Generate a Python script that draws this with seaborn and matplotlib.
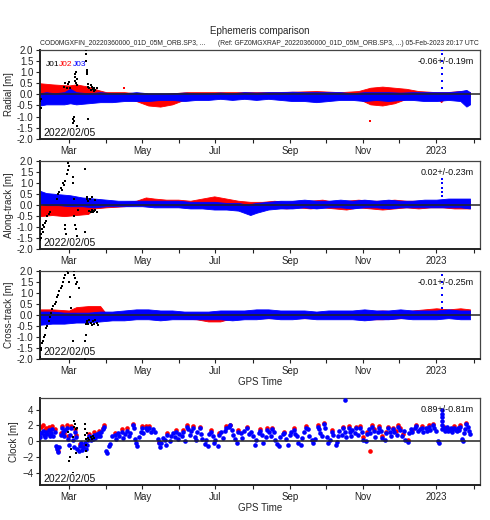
import numpy as np
import pandas as pd
import seaborn as sns
import matplotlib.pyplot as plt
import matplotlib.dates as mdates

start = pd.Timestamp("2022-02-05")

# ---- Radial: band envelopes (day offset, low, high) ----
rad_j02_days = [0, 10, 24, 30, 40, 48, 55, 70, 80, 90, 100, 110, 122, 135, 150, 170, 190, 210, 230, 250, 265, 275, 285, 295, 305, 315, 330, 334, 338, 350, 358]
rad_j02_low = [0.0, 0.05, 0.0, 0.05, 0.05, -0.1, -0.15, -0.15, -0.3, -0.5, -0.55, -0.45, -0.2, -0.15, -0.15, -0.1, -0.15, -0.1, -0.15, -0.15, -0.2, -0.45, -0.5, -0.4, -0.2, -0.15, -0.15, -0.35, -0.1, -0.1, -0.1]
rad_j02_high = [0.5, 0.45, 0.4, 0.45, 0.35, 0.2, 0.1, 0.1, 0.05, 0.0, 0.0, 0.05, 0.1, 0.1, 0.1, 0.1, 0.1, 0.12, 0.15, 0.1, 0.15, 0.3, 0.35, 0.3, 0.25, 0.15, 0.1, 0.1, 0.1, 0.15, 0.1]

rad_j03_days = [0, 5, 12, 20, 25, 30, 40, 50, 60, 70, 80, 90, 100, 110, 120, 130, 140, 150, 160, 170, 180, 190, 200, 210, 220, 230, 240, 250, 260, 270, 280, 290, 300, 310, 320, 330, 340, 350, 355, 358]
rad_j03_low = [-0.5, -0.45, -0.45, -0.45, -0.4, -0.45, -0.4, -0.35, -0.35, -0.3, -0.3, -0.3, -0.25, -0.25, -0.3, -0.25, -0.25, -0.2, -0.25, -0.2, -0.25, -0.2, -0.25, -0.3, -0.3, -0.35, -0.3, -0.25, -0.25, -0.3, -0.25, -0.3, -0.25, -0.25, -0.3, -0.3, -0.25, -0.3, -0.55, -0.45]
rad_j03_high = [0.05, 0.1, 0.05, 0.1, 0.25, 0.1, 0.05, 0.1, 0.05, 0.05, 0.1, 0.05, 0.05, 0.05, 0.08, 0.05, 0.05, 0.08, 0.05, 0.1, 0.08, 0.1, 0.1, 0.12, 0.1, 0.1, 0.1, 0.1, 0.05, 0.1, 0.1, 0.1, 0.08, 0.1, 0.1, 0.1, 0.1, 0.15, 0.2, 0.1]

rad_j01_days = [0, 0.5, 1, 20, 21, 22, 23, 24, 25, 27, 27.3, 27.6, 28, 28.3, 28.6, 29, 29.3, 29.6, 30, 30.3, 30.6, 31, 38, 38.2, 38.4, 38.6, 38.8, 39, 39.5, 40, 40, 41, 42, 43, 44, 45, 46, 47, 42.5, 44.5]
rad_j01_vals = [-0.3, -0.6, -0.2, 0.35, 0.5, 0.3, 0.45, 0.55, 0.3, -1.6, -1.3, -1.1, -1.0, -1.2, 0.8, 0.9, 0.6, 0.5, 1.0, -1.4, 0.7, 0.4, 2.0, 1.8, 1.5, 1.1, 1.0, 0.9, 0.45, -1.1, 0.35, 0.3, 0.2, 0.35, 0.25, 0.3, 0.2, 0.3, 0.4, 0.15]
rad_spike_vals = [0.3, 0.6, 0.9, 1.2, 1.5, 1.8, 2.0]
rad_out_days = [275, 70]
rad_out_vals = [-1.2, 0.3]

# ---- Along-track ----
alo_j02_days = [0, 10, 20, 30, 40, 45, 55, 70, 80, 88, 95, 105, 115, 125, 135, 145, 155, 165, 175, 185, 195, 205, 215, 225, 235, 245, 255, 265, 275, 285, 295, 305, 315, 325, 335, 345, 358]
alo_j02_low = [-0.5, -0.45, -0.5, -0.45, -0.4, -0.15, -0.1, -0.05, 0.0, 0.0, 0.0, -0.05, -0.05, -0.1, 0.0, -0.05, 0.0, -0.1, -0.15, -0.15, -0.1, -0.15, -0.1, -0.15, -0.1, -0.15, -0.2, -0.1, -0.15, -0.2, -0.15, -0.1, -0.15, -0.1, -0.1, -0.15, -0.15]
alo_j02_high = [0.0, 0.0, 0.0, 0.0, 0.0, 0.1, 0.1, 0.15, 0.2, 0.35, 0.3, 0.25, 0.25, 0.2, 0.3, 0.4, 0.3, 0.2, 0.15, 0.15, 0.2, 0.15, 0.2, 0.2, 0.25, 0.15, 0.2, 0.25, 0.2, 0.2, 0.25, 0.2, 0.2, 0.2, 0.2, 0.25, 0.2]

alo_j03_days = [0, 5, 15, 25, 35, 45, 55, 65, 75, 85, 95, 105, 115, 125, 135, 145, 155, 165, 170, 175, 180, 190, 200, 210, 220, 230, 240, 250, 260, 270, 280, 290, 300, 310, 320, 330, 340, 350, 358]
alo_j03_low = [0.05, 0.0, 0.0, -0.05, -0.05, -0.1, -0.05, -0.05, -0.05, -0.05, -0.1, -0.1, -0.1, -0.15, -0.15, -0.2, -0.2, -0.25, -0.35, -0.45, -0.35, -0.2, -0.15, -0.15, -0.1, -0.15, -0.1, -0.1, -0.15, -0.1, -0.1, -0.15, -0.1, -0.1, -0.1, -0.1, -0.1, -0.1, -0.15]
alo_j03_high = [0.65, 0.55, 0.5, 0.45, 0.35, 0.3, 0.25, 0.2, 0.2, 0.2, 0.2, 0.2, 0.2, 0.15, 0.15, 0.15, 0.1, 0.1, 0.05, 0.05, 0.1, 0.15, 0.2, 0.2, 0.25, 0.2, 0.2, 0.25, 0.2, 0.25, 0.2, 0.25, 0.2, 0.2, 0.25, 0.25, 0.3, 0.3, 0.3]

alo_j01_days = [0, 0.5, 1, 1.5, 2, 2.5, 3, 4, 5, 6, 7, 8, 14, 15, 16, 17, 18, 19, 20, 21, 22, 23, 23.5, 24, 20.5, 20.8, 21.2, 27, 27.5, 28, 28.5, 29, 30, 30.5, 31, 31.5, 37, 37.3, 37.6, 38, 38.3, 38.6, 39, 40, 41, 42, 43, 44, 45, 46, 47, 41.5, 43.5, 45.5]
alo_j01_vals = [-1.6, -1.3, -1.5, -1.1, -1.2, -0.9, -1.0, -0.8, -0.7, -0.5, -0.4, -0.3, 0.3, 0.5, 0.6, 0.8, 0.7, 1.0, 0.9, 1.1, 1.4, 1.6, 1.9, 1.8, -0.9, -1.1, -1.3, 1.3, 1.0, 0.3, -0.5, -0.9, -1.1, -1.4, -1.5, -0.2, 1.65, -1.2, -1.5, -1.8, -1.6, 0.35, 0.3, 0.2, -0.25, -0.3, -0.2, -0.3, -0.25, -0.2, -0.3, 0.3, 0.35, 0.25]
alo_spike_vals = [0.4, 0.6, 0.8, 1.0, 1.2]

# ---- Cross-track ----
crs_j02_days = [0, 10, 24, 30, 40, 50, 55, 70, 90, 110, 130, 140, 150, 160, 180, 200, 220, 240, 260, 270, 285, 300, 310, 320, 330, 340, 350, 358]
crs_j02_low = [-0.05, 0.0, -0.05, 0.1, 0.1, 0.15, -0.15, -0.15, -0.15, -0.15, -0.2, -0.3, -0.3, -0.15, -0.15, -0.15, -0.15, -0.15, -0.15, -0.2, -0.2, -0.15, -0.1, -0.05, 0.0, 0.0, 0.0, 0.0]
crs_j02_high = [0.25, 0.25, 0.2, 0.35, 0.4, 0.4, 0.05, 0.05, 0.05, 0.05, 0.05, 0.05, 0.05, 0.05, 0.05, 0.05, 0.05, 0.05, 0.05, 0.15, 0.2, 0.15, 0.2, 0.25, 0.3, 0.25, 0.3, 0.25]

crs_j03_days = [0, 10, 20, 30, 40, 50, 60, 70, 80, 90, 100, 110, 120, 130, 140, 150, 160, 170, 180, 190, 200, 210, 220, 230, 240, 250, 260, 270, 280, 290, 300, 310, 320, 330, 340, 350, 358]
crs_j03_low = [-0.45, -0.4, -0.4, -0.35, -0.35, -0.3, -0.25, -0.25, -0.2, -0.2, -0.25, -0.2, -0.2, -0.2, -0.2, -0.2, -0.25, -0.2, -0.2, -0.15, -0.2, -0.2, -0.15, -0.2, -0.2, -0.2, -0.2, -0.25, -0.2, -0.2, -0.15, -0.2, -0.2, -0.2, -0.15, -0.2, -0.2]
crs_j03_high = [0.15, 0.15, 0.1, 0.1, 0.1, 0.15, 0.15, 0.2, 0.25, 0.25, 0.2, 0.2, 0.15, 0.15, 0.15, 0.2, 0.2, 0.2, 0.25, 0.25, 0.2, 0.2, 0.2, 0.15, 0.2, 0.2, 0.2, 0.25, 0.2, 0.2, 0.25, 0.2, 0.2, 0.2, 0.25, 0.2, 0.2]

crs_j01_days = [0, 0.5, 1, 1.5, 2, 3, 4, 5, 6, 7, 8, 9, 10, 11, 12, 13, 14, 15, 16, 17, 18, 19, 20, 21, 22, 23, 24, 25, 26, 27, 27.5, 28, 28.5, 29, 30, 31, 32, 37, 37.3, 37.6, 38, 38.3, 38.6, 39, 40, 41, 42, 43, 44, 45, 46, 47, 48]
crs_j01_vals = [-1.9, -1.6, -1.5, -1.3, -1.2, -1.0, -0.9, -0.6, -0.5, -0.3, -0.1, 0.1, 0.25, 0.4, 0.5, 0.6, 0.8, 0.9, 1.1, 1.2, 1.3, 1.5, 1.7, 1.8, 2.0, 1.9, 1.5, 0.8, 0.3, -1.2, -1.5, 1.8, 2.0, 1.7, 1.4, 1.5, 1.2, -2.0, -1.6, -1.2, -0.9, -0.4, -0.35, -0.3, -0.4, -0.25, -0.35, -0.45, -0.3, -0.4, -0.25, -0.35, -0.45]
crs_spike_vals = [0.3, 0.6, 0.9, 1.2, 1.5, 1.8]

# ---- Clock: individual points (day offset, value) ----
clk_j03_days = [0, 1, 2, 3, 4, 5, 6, 7, 8, 9, 10, 11, 12, 13, 14, 15, 16, 17, 18, 19, 20, 21, 22, 23, 24, 25, 26, 27, 28, 29, 30,
                31, 32, 33, 34, 35, 36, 37, 38, 39, 40, 41, 42, 43, 44, 45, 46, 47, 48, 49, 50, 51, 52, 53, 55, 56, 57, 58,
                60, 62, 63, 65, 66, 68, 69, 71, 72, 74, 75, 77, 78, 79, 80, 81, 82, 84, 85, 86, 88, 89, 91, 92, 94, 96,
                98, 99, 100, 101, 102, 104, 105, 106, 108, 109, 111, 112, 113, 115, 116, 118, 119, 121, 122, 123, 125, 126,
                127, 129, 130, 131, 133, 134, 135, 137, 138, 140, 141, 142, 144, 145, 146, 148, 149, 151, 152, 154, 155, 157,
                158, 160, 161, 162, 164, 165, 167, 168, 170, 172, 174, 176, 177, 179, 180, 182, 183, 185, 186, 188, 189, 191,
                192, 193, 195, 196, 197, 199, 200, 202, 203, 205, 206, 208, 209, 211, 212, 214, 215, 217, 218, 220, 221, 223,
                224, 226, 227, 229, 231, 232, 233, 235, 236, 237, 239, 240, 241, 243, 244, 246, 247, 248, 249, 251, 252, 253.6,
                254, 255, 257, 258, 259, 260, 262, 263, 265, 266, 268, 269, 271, 272, 274, 275, 276, 278, 279, 281, 282, 284,
                285, 287, 288, 290, 291, 292, 294, 295, 297, 298, 300, 301, 303, 304, 306, 307, 309, 310, 312, 313, 315, 316,
                318, 319, 321, 322, 324, 325, 327, 328, 330, 331, 332, 335, 335, 335, 335, 335, 335, 336, 337, 338, 339, 340,
                341, 342, 343, 344, 345, 346, 347, 348, 349, 350, 351, 352, 353, 354, 355, 356, 357, 358]
clk_j03_vals = [0.5, 1.0, 1.3, 0.8, 0.5, 1.2, 0.9, 1.4, 0.6, 1.0, 1.5, 0.7, 1.2, -0.6, -1.0, -1.4, -0.8, 0.8, 1.6, 1.2, 0.6, 1.4, 1.7, 0.3, -0.5, 0.8, 1.6, 0.2, -0.8, 1.2, 0.5,
                -1.0, -1.3, -0.6, -0.3, -1.1, -0.8, -0.2, -1.0, -0.5, 0.2, 0.6, 0.1, 0.5, 0.3, 0.8, 0.4, 0.9, 0.6, 1.0, 0.7, 1.2, 1.5, 1.8, -1.2, -1.5, -0.6, -0.4,
                0.6, 0.8, 0.3, 1.0, 0.6, 1.2, 0.4, 0.9, 1.3, 0.7, 1.0, 2.0, 1.6, 0.3, -0.2, -0.6, 0.5, 1.2, 1.6, 1.0, 1.7, 1.4, 1.7, 1.2, 1.5, 1.1,
                0.3, -0.3, -0.8, -0.2, 0.4, 0.1, -0.5, 0.8, 0.0, 0.6, 1.0, 0.5, 1.2, 0.3, 0.9, 0.6, 1.2, 0.0, 1.8, 1.5, 0.8, 1.3,
                1.7, 0.5, 0.2, 1.1, 1.6, 0.9, 0.3, -0.4, 0.2, -0.6, 0.9, 1.2, 0.6, -0.3, 0.1, -0.6, 0.8, 1.1, 0.4, 1.3, 1.6, 1.8,
                2.0, 1.4, 0.8, 0.3, -0.2, 1.2, 1.0, 0.4, 1.3, 1.6, 0.9, 1.2, 0.6, -0.5, 0.2, 1.0, 1.3, 0.8, -0.3, 0.5, 1.4, 1.2,
                0.6, 1.5, 1.2, 0.2, -0.4, -0.6, 0.5, 0.9, 1.0, 0.3, -0.5, 0.8, 1.1, 1.4, 0.9, 0.6, -0.2, -0.5, 0.4, 1.2, 1.7, 1.5,
                0.7, 0.2, -0.3, 0.3, 1.8, 1.5, 1.0, 0.7, 2.2, 1.6, 0.5, -0.3, 0.1, 1.2, 0.8, -0.5, -0.1, 0.6, 1.3, 0.8, 1.6, 5.2,
                1.2, 0.5, 1.7, 1.2, 0.6, 1.4, 1.0, 1.6, 0.8, 1.7, 1.2, 0.2, 0.0, 0.9, 1.5, 1.0, 1.8, 1.3, 0.5, 1.1, 1.7, 1.3,
                0.4, 0.1, 1.0, 1.6, 1.2, 0.6, 1.5, 1.1, 0.8, 1.8, 1.4, 0.6, 1.3, 0.1, -0.1, 1.0, 1.5, 1.2, 1.6, 1.9, 1.3, 1.5,
                1.7, 1.2, 1.6, 1.3, 1.8, 1.4, 2.0, 1.6, 1.3, 0.0, -0.3, 1.5, 2.0, 2.5, 3.0, 3.5, 4.0, 1.6, 1.3, 1.5, 1.8, 1.3,
                1.4, 1.6, 1.2, 1.5, 1.7, 1.4, 1.3, 1.6, 1.4, 1.8, 0.3, 0.0, 1.0, 1.5, 2.2, 1.8, 1.3, 0.9]

clk_j02_days = [0, 1, 2, 4, 5, 7, 8, 10, 12, 14, 15, 17, 18, 20, 22, 23, 26, 29, 30, 33, 36, 41, 45, 49, 52, 53, 62, 68, 72,
                77, 85, 88, 91, 99, 106, 113, 119, 122, 127, 133, 142, 149, 155, 158, 165, 172, 183, 189, 193, 203, 211,
                221, 231, 236, 243, 252, 257, 263, 266, 269, 272, 275, 276, 278, 282, 285, 288, 290, 294, 296, 298, 300,
                302, 306, 310, 313, 318, 324, 327, 336, 340, 345, 350, 355]
clk_j02_vals = [1.0, 1.8, 2.0, 1.4, 1.7, 1.8, 1.1, 1.9, 1.5, -0.7, -1.2, 1.0, 1.9, 1.0, 2.0, 0.6, 1.9, 1.5, 0.8, -0.4, -0.6, 0.9, 1.1, 1.3, 1.7, 2.0, 1.0, 1.5, 1.6,
                2.2, 1.9, 1.9, 1.9, -0.1, 1.0, 1.4, 1.4, 2.0, 1.9, 1.8, 1.4, 1.0, 1.9, 2.1, 1.4, 1.8, 1.5, 1.6, 1.7, 1.2, 1.6,
                1.9, 2.0, 2.3, 1.4, 1.8, 1.9, 1.8, 1.9, 0.5, 1.1, -1.3, 2.0, 1.5, 1.9, 0.6, 1.2, 1.8, 1.7, 1.3, 2.0, 1.6,
                0.9, 0.1, 1.4, 2.1, 1.9, 2.0, 2.2, 1.8, 1.5, 1.9, 2.0, 2.3]

clk_j01_days = [23, 24, 25, 26, 27, 27.5, 28, 28.5, 29, 29.5, 30, 31, 37, 37.3, 37.6, 38, 38.2, 38.5, 38.8, 39, 39.5, 40, 41, 42, 43, 44, 45]
clk_j01_vals = [1.2, -2.5, -2.0, -1.0, -4.0, 0.5, 2.5, 1.8, 2.2, -1.5, 1.5, 1.7, 2.2, 1.5, 0.8, 0.3, -0.5, -1.2, -2.0, 1.0, 0.0, 0.4, 0.2, 0.5, 0.3, 0.6, 0.4]

stats = ["-0.06+/-0.19m", "0.02+/-0.23m", "-0.01+/-0.25m", "0.89+/-0.81m"]
ylabels = ["Radial [m]", "Along-track [m]", "Cross-track [m]", "Clock [m]"]
date_label = "2022/02/05"
title = "Ephemeris comparison"
sub_left = "COD0MGXFIN_20220360000_01D_05M_ORB.SP3, ..."
sub_right = "(Ref: GFZ0MGXRAP_20220360000_01D_05M_ORB.SP3, ...) 05-Feb-2023 20:17 UTC"
spike_day = 335


def to_dates(days):
    return start + pd.to_timedelta(np.asarray(days, dtype=float), unit="D")


sns.set_style("ticks")
plt.rcParams["font.family"] = ["Liberation Sans", "DejaVu Sans"]

fig = plt.figure(figsize=(4.9, 5.2), dpi=100)
boxes = [(0.082, 0.733, 0.898, 0.171),
         (0.082, 0.521, 0.898, 0.169),
         (0.082, 0.310, 0.898, 0.169),
         (0.082, 0.067, 0.898, 0.168)]
axes = [fig.add_axes(b) for b in boxes]

RED, BLUE, BLACK = "#ff0000", "#0000ff", "#000000"

bands = [
    [(rad_j02_days, rad_j02_low, rad_j02_high, RED), (rad_j03_days, rad_j03_low, rad_j03_high, BLUE)],
    [(alo_j02_days, alo_j02_low, alo_j02_high, RED), (alo_j03_days, alo_j03_low, alo_j03_high, BLUE)],
    [(crs_j02_days, crs_j02_low, crs_j02_high, RED), (crs_j03_days, crs_j03_low, crs_j03_high, BLUE)],
]
blacks = [(rad_j01_days, rad_j01_vals), (alo_j01_days, alo_j01_vals), (crs_j01_days, crs_j01_vals)]
spikes = [rad_spike_vals, alo_spike_vals, crs_spike_vals]

for i in range(3):
    ax = axes[i]
    for days, lo, hi, c in bands[i]:
        ax.fill_between(to_dates(days), lo, hi, color=c, lw=0.6, edgecolor=c, zorder=2)
    d, v = blacks[i]
    sns.scatterplot(x=to_dates(d), y=v, color=BLACK, s=3, marker="s", linewidth=0, ax=ax, zorder=4)
    sns.scatterplot(x=to_dates([spike_day] * len(spikes[i])), y=spikes[i], color=BLUE, s=3,
                    marker="s", linewidth=0, ax=ax, zorder=4)
    ax.set_ylim(-2.0, 2.0)
    ax.set_yticks(np.arange(-2.0, 2.01, 0.5))
    ax.set_yticklabels([f"{t:.1f}" for t in np.arange(-2.0, 2.01, 0.5)])

sns.scatterplot(x=to_dates(rad_out_days), y=rad_out_vals, color=RED, s=3, marker="s",
                linewidth=0, ax=axes[0], zorder=4)

# clock panel
ax = axes[3]
sns.scatterplot(x=to_dates(clk_j02_days), y=clk_j02_vals, color=RED, s=11, linewidth=0, ax=ax, zorder=2)
sns.scatterplot(x=to_dates(clk_j03_days), y=clk_j03_vals, color=BLUE, s=11, linewidth=0, ax=ax, zorder=3)
sns.scatterplot(x=to_dates(clk_j01_days), y=clk_j01_vals, color=BLACK, s=3, marker="s", linewidth=0, ax=ax, zorder=4)
ax.set_ylim(-5.6, 5.5)
ax.set_yticks([-4, -2, 0, 2, 4])


def month_label(x, pos):
    d = mdates.num2date(x)
    return "2023" if d.month == 1 else d.strftime("%b")


for i, ax in enumerate(axes):
    ax.axhline(0, color="#222222", lw=1.1, zorder=5)
    ax.set_xlim(start, start + pd.Timedelta(days=366.5))
    ax.xaxis.set_major_locator(mdates.MonthLocator(bymonth=[1, 3, 5, 7, 9, 11]))
    ax.xaxis.set_minor_locator(mdates.MonthLocator(bymonth=[2, 4, 6, 8, 10, 12]))
    ax.xaxis.set_major_formatter(plt.FuncFormatter(month_label))
    ax.tick_params(axis="both", which="both", direction="out", length=3, width=0.8,
                   labelsize=7, colors="#222222", pad=2)
    for side in ["left", "bottom"]:
        ax.spines[side].set_linewidth(1.4)
        ax.spines[side].set_color("#222222")
    for side in ["top", "right"]:
        ax.spines[side].set_linewidth(0.9)
        ax.spines[side].set_color("#444444")
    ax.set_ylabel(ylabels[i], fontsize=7, labelpad=2)
    ax.set_xlabel("GPS Time" if i >= 2 else "", fontsize=7, labelpad=1)
    ax.text(0.985, 0.92, stats[i], transform=ax.transAxes, ha="right", va="top",
            fontsize=6.5, color="#111111", zorder=6)
    ax.text(0.007, 0.015, date_label, transform=ax.transAxes, ha="left", va="bottom",
            fontsize=7.5, color="#111111", zorder=6,
            bbox=dict(facecolor="white", edgecolor="none", pad=0.3))

axes[0].text(0.012, 0.88, "J01", transform=axes[0].transAxes, fontsize=6, color=BLACK, va="top", zorder=6)
axes[0].text(0.043, 0.88, "J02", transform=axes[0].transAxes, fontsize=6, color=RED, va="top", zorder=6)
axes[0].text(0.075, 0.88, "J03", transform=axes[0].transAxes, fontsize=6, color=BLUE, va="top", zorder=6)

fig.text(0.53, 0.94, title, ha="center", va="center", fontsize=7)
fig.text(0.082, 0.917, sub_left, ha="left", va="center", fontsize=4.9)
fig.text(0.978, 0.917, sub_right, ha="right", va="center", fontsize=4.9)

fig.savefig("out.png", dpi=100)
